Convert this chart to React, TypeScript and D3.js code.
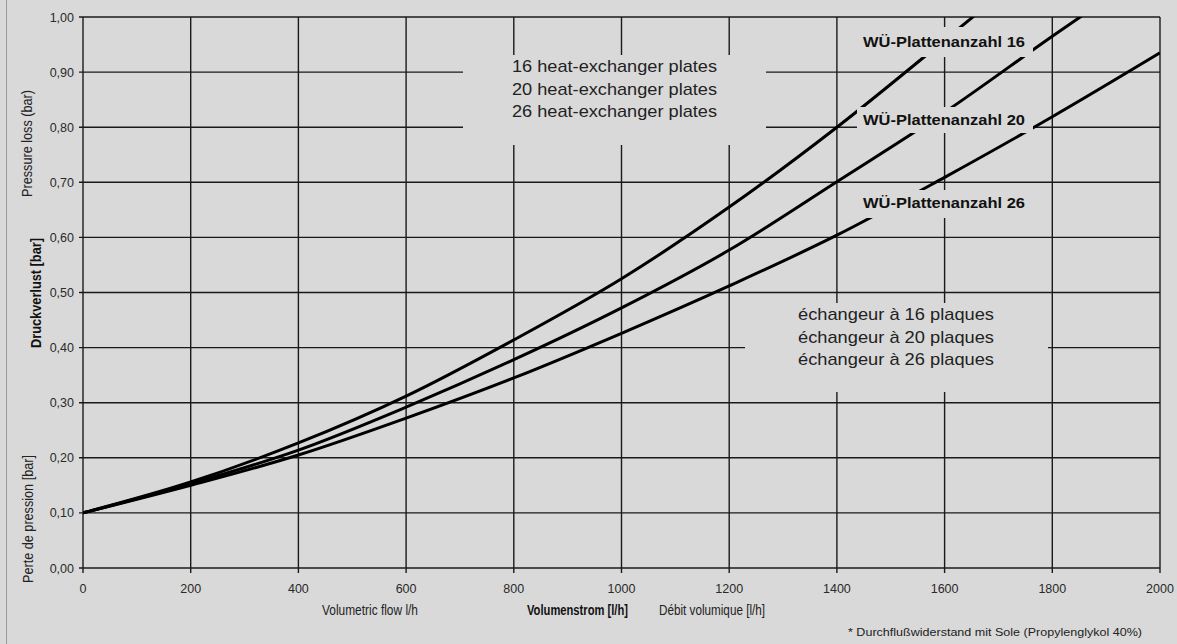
import React from "react";
import * as d3 from "d3";

const flow = [0, 200, 400, 600, 800, 1000, 1200, 1400, 1600, 1800, 2000];
const plates16 = [0.1, 0.156, 0.227, 0.312, 0.414, 0.525, 0.655, 0.8, 0.958, 1.12, 1.29];
const plates20 = [0.1, 0.153, 0.214, 0.292, 0.378, 0.472, 0.577, 0.701, 0.827, 0.965, 1.1];
const plates26 = [0.1, 0.15, 0.205, 0.272, 0.345, 0.426, 0.512, 0.604, 0.709, 0.819, 0.935];
const xTicks = [0, 200, 400, 600, 800, 1000, 1200, 1400, 1600, 1800, 2000];
const yTicks = [0, 0.1, 0.2, 0.3, 0.4, 0.5, 0.6, 0.7, 0.8, 0.9, 1.0];
const seriesLabels = ["WÜ-Plattenanzahl 16", "WÜ-Plattenanzahl 20", "WÜ-Plattenanzahl 26"];
const englishLabels = ["16 heat-exchanger plates", "20 heat-exchanger plates", "26 heat-exchanger plates"];
const frenchLabels = ["échangeur à 16 plaques", "échangeur à 20 plaques", "échangeur à 26 plaques"];

const W = 1177;
const H = 644;
const BG = "#d9d9d9";
const FONT = "'Liberation Sans', Arial, Helvetica, sans-serif";

export default function App() {
  const x = d3.scaleLinear().domain([0, 2000]).range([83, 1160]);
  const y = d3.scaleLinear().domain([0, 1]).range([568, 17]);
  const series = [plates16, plates20, plates26];
  const line = d3
    .line<number>()
    .x((_, i) => x(flow[i]))
    .y((d) => y(d))
    .curve(d3.curveMonotoneX);

  const fmt = (v: number) => v.toFixed(2).replace(".", ",");

  const wuBoxes = [
    { y0: 27, y1: 57, base: 47 },
    { y0: 107, y1: 133, base: 125 },
    { y0: 190, y1: 218, base: 208 },
  ];

  return (
    <svg
      width={W}
      height={H}
      style={{ position: "fixed", left: 0, top: 0, display: "block" }}
      fontFamily={FONT}
    >
      <rect x={0} y={0} width={W} height={H} fill={BG} />
      <line x1={6.5} x2={6.5} y1={0} y2={H} stroke="#9a9a9a" strokeWidth={1} />
      <defs>
        <clipPath id="plotClip">
          <rect x={x(0)} y={y(1)} width={x(2000) - x(0)} height={y(0) - y(1)} />
        </clipPath>
      </defs>

      {yTicks.map((t) => (
        <line
          key={"gy" + t}
          x1={x(0) - 4}
          x2={x(2000)}
          y1={y(t)}
          y2={y(t)}
          stroke="#1a1a1a"
          strokeWidth={1.4}
        />
      ))}
      {xTicks.map((t) => (
        <line
          key={"gx" + t}
          x1={x(t)}
          x2={x(t)}
          y1={y(1)}
          y2={y(0) + 5}
          stroke="#1a1a1a"
          strokeWidth={1.4}
        />
      ))}

      <g clipPath="url(#plotClip)">
        {series.map((s, i) => (
          <path key={"s" + i} d={line(s) || ""} fill="none" stroke="#000" strokeWidth={3} />
        ))}
      </g>

      <rect x={463} y={55} width={303} height={90} fill={BG} />
      <rect x={745} y={303} width={303} height={89} fill={BG} />
      {wuBoxes.map((b, i) => (
        <rect key={"m" + i} x={857} y={b.y0} width={176} height={b.y1 - b.y0} fill={BG} />
      ))}

      {yTicks.map((t) => (
        <text key={"ty" + t} x={74} y={y(t) + 4.5} textAnchor="end" fontSize={12.5} fill="#2a2a2a">
          {fmt(t)}
        </text>
      ))}
      {xTicks.map((t) => (
        <text key={"tx" + t} x={x(t)} y={593} textAnchor="middle" fontSize={12.5} fill="#2a2a2a">
          {t}
        </text>
      ))}

      {seriesLabels.map((s, i) => (
        <text
          key={"wl" + i}
          x={863}
          y={wuBoxes[i].base}
          fontSize={15.5}
          fontWeight="bold"
          fill="#111"
          textLength={162}
          lengthAdjust="spacingAndGlyphs"
        >
          {s}
        </text>
      ))}

      {englishLabels.map((s, i) => (
        <text
          key={"en" + i}
          x={512}
          y={72 + i * 22.5}
          fontSize={17}
          fill="#222"
          textLength={205}
          lengthAdjust="spacingAndGlyphs"
        >
          {s}
        </text>
      ))}
      {frenchLabels.map((s, i) => (
        <text
          key={"fr" + i}
          x={798}
          y={320 + i * 22.5}
          fontSize={17}
          fill="#222"
          textLength={196}
          lengthAdjust="spacingAndGlyphs"
        >
          {s}
        </text>
      ))}

      <text
        transform="translate(32,197) rotate(-90)"
        fontSize={15}
        fill="#222"
        textLength={107}
        lengthAdjust="spacingAndGlyphs"
      >
        Pressure loss (bar)
      </text>
      <text
        transform="translate(40.5,348) rotate(-90)"
        fontSize={14}
        fontWeight="bold"
        fill="#111"
        textLength={110}
        lengthAdjust="spacingAndGlyphs"
      >
        Druckverlust [bar]
      </text>
      <text
        transform="translate(33,583) rotate(-90)"
        fontSize={15}
        fill="#222"
        textLength={128}
        lengthAdjust="spacingAndGlyphs"
      >
        Perte de pression [bar]
      </text>

      <text x={322} y={615} fontSize={15} fill="#222" textLength={96} lengthAdjust="spacingAndGlyphs">
        Volumetric flow l/h
      </text>
      <text
        x={527}
        y={615}
        fontSize={14}
        fontWeight="bold"
        fill="#111"
        textLength={101}
        lengthAdjust="spacingAndGlyphs"
      >
        Volumenstrom [l/h]
      </text>
      <text x={659} y={615} fontSize={15} fill="#222" textLength={106} lengthAdjust="spacingAndGlyphs">
        Débit volumique [l/h]
      </text>
      <text x={848} y={636} fontSize={11.5} fill="#222" textLength={294} lengthAdjust="spacingAndGlyphs">
        * Durchflußwiderstand mit Sole (Propylenglykol 40%)
      </text>
    </svg>
  );
}
